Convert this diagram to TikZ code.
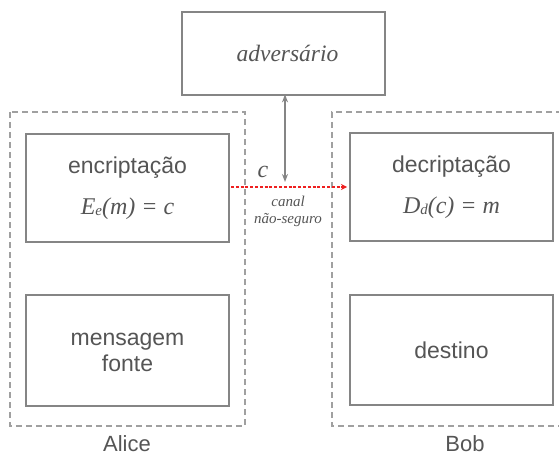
\documentclass[tikz,border=0pt]{standalone}
\usepackage{fontspec}
\setmainfont{Liberation Serif}
\setsansfont{Liberation Sans}
\usetikzlibrary{arrows.meta}
\definecolor{txt}{HTML}{555555}
\definecolor{boxline}{HTML}{858585}
\definecolor{dash}{HTML}{A0A0A0}
\definecolor{chan}{HTML}{EE2020}
\newcommand{\sm}[1]{{\fontsize{15}{15}\selectfont #1}}
\begin{document}
\begin{tikzpicture}[x=1pt,y=-1pt,
  stage/.style={draw=boxline, line width=2.8pt, fill=white, text=txt,
    minimum width=203pt, minimum height=108pt, inner sep=0pt,
    align=center, font=\sffamily\fontsize{23}{34}\selectfont},
  party/.style={draw=dash, line width=1.3pt, dash pattern=on 6pt off 4pt},
  who/.style={text=txt, inner sep=0pt, font=\sffamily\fontsize{22}{22}\selectfont},
  formula/.style={font=\rmfamily\itshape\fontsize{24}{24}\selectfont},
]
\useasboundingbox (0,0) rectangle (559,457);

% Alice and Bob groups
\draw[party] (10,112) rectangle (245,426);
\draw[party] (562,112) -- (332,112) -- (332,426) -- (562,426);
\node[who] (alice) at (127,444) {Alice};
\node[who] (bob) at (465,444) {Bob};

% processing stages
\node[stage, minimum height=83pt, font=\rmfamily\itshape\fontsize{23.5}{23.5}\selectfont]
  (adv) at (283.5,53.5) {\hspace*{8pt}adversário};
\node[stage] (enc) at (127.5,188) {encriptação\\[7pt]
  {\rmfamily\itshape\fontsize{24}{24}\selectfont E\raisebox{-1pt}{\sm{e}}(m) = c}};
\node[stage] (dec) at (451.5,187) {decriptação\\[7pt]
  {\rmfamily\itshape\fontsize{24}{24}\selectfont D\raisebox{-1pt}{\sm{d}}(c) = m}};
\node[stage, minimum height=111pt, text depth=0pt] (src) at (127.5,350.5)
  {\raisebox{-4pt}{mensagem}\\[-8pt]\raisebox{-4pt}{fonte}};
\node[stage, minimum height=110pt] (dst) at (451.5,350) {destino};

% insecure channel
\coordinate (tap) at (285,182);
\coordinate (out) at (231,187);
\coordinate (in) at (347,187);
\draw[chan, line width=2.2pt, dash pattern=on 3pt off 1.8pt,
  -{Stealth[length=6pt,width=6pt]}] (out) -- (in);
\draw[boxline, line width=1.6pt, {Stealth[length=8pt,width=6pt]}-{Stealth[length=8pt,width=6pt]}]
  ([yshift=2pt]adv.south -| tap) -- (tap);
\node[txt, formula] (c) at (263,172) {c};
\node[txt, align=center, font=\rmfamily\itshape\fontsize{15}{17}\selectfont]
  (lbl) at (288,211) {canal\\não-seguro};
\end{tikzpicture}
\end{document}
